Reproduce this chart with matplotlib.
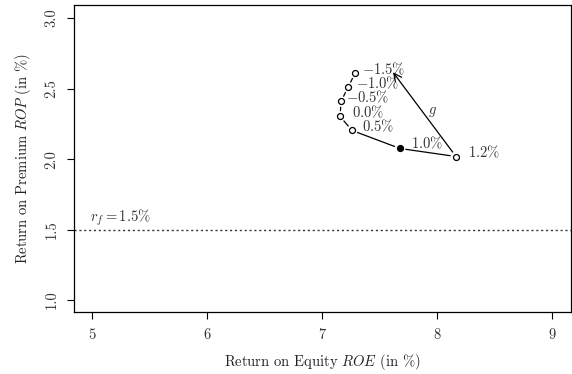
import numpy as np
import matplotlib
matplotlib.use("Agg")
import matplotlib.pyplot as plt

plt.rcParams['font.family'] = 'serif'
plt.rcParams['font.serif'] = ['cmr10']
plt.rcParams['mathtext.fontset'] = 'cm'
plt.rcParams['axes.formatter.use_mathtext'] = True
plt.rcParams['font.size'] = 10.5

TXT = '#333333'

# growth scenarios and resulting returns
growth = ['$-1.5\\%$', '$-1.0\\%$', '$-0.5\\%$', '$0.0\\%$', '$0.5\\%$', '$1.0\\%$', '$1.2\\%$']
roe = [7.287, 7.226, 7.165, 7.157, 7.261, 7.678, 8.165]
rop = [2.609, 2.509, 2.409, 2.302, 2.203, 2.075, 2.018]
filled = [False, False, False, False, False, True, False]
r_free = 1.5

xticks = [5, 6, 7, 8, 9]
yticks = [1.0, 1.5, 2.0, 2.5, 3.0]

fig = plt.figure(figsize=(5.72, 3.74), dpi=100)
ax = fig.add_axes([74/572, 1 - 312/374, 497/572, 307/374])
ax.set_xlim(4.843, 9.165)
ax.set_ylim(0.915, 3.093)

ax.set_xticks(xticks)
ax.set_xticklabels([str(t) for t in xticks])
ax.set_yticks(yticks)
ax.set_yticklabels(['%.1f' % t for t in yticks], rotation=90, va='center')
ax.tick_params(direction='out', length=5, width=0.8, colors='black', labelcolor=TXT, pad=7)
ax.tick_params(axis='y', pad=6)
for s in ax.spines.values():
    s.set_linewidth(0.9)

ax.set_xlabel('Return on Equity $ROE$ (in %)', labelpad=7, color='#222222')
ax.set_ylabel('Return on Premium $ROP$ (in %)', labelpad=9, color='#222222')

# risk free line
ax.axhline(r_free, color='#333333', linestyle=(0, (1.5, 2)), linewidth=1.0)
ax.annotate('$r_f = 1.5\\%$', (4.983, r_free), xytext=(0, 2), textcoords='offset pixels',
            ha='left', va='bottom', color=TXT)

# connect points like R type="b": segments with gaps around the markers
fig.canvas.draw()
pts = ax.transData.transform(np.column_stack([roe, rop]))
gap = 6.0
inv = ax.transData.inverted()
for a, b in zip(pts[:-1], pts[1:]):
    d = b - a
    L = np.hypot(*d)
    if L <= 2 * gap:
        continue
    u = d / L
    p0 = inv.transform(a + u * gap)
    p1 = inv.transform(b - u * gap)
    ax.plot([p0[0], p1[0]], [p0[1], p1[1]], color='black', linewidth=0.9)

for x, y, f in zip(roe, rop, filled):
    ax.plot(x, y, 'o', markersize=4.3, markeredgewidth=0.9, markeredgecolor='black',
            markerfacecolor='black' if f else 'white', zorder=3)

# scenario labels (pixel offsets from each point)
offsets = [(7, 4), (8, 4), (5, 4), (12, 4), (10, 4), (11, 5), (12, 4)]
for x, y, lab, (dx, dy) in zip(roe, rop, growth, offsets):
    ax.annotate(lab, (x, y), xytext=(dx, dy), textcoords='offset pixels',
                ha='left', va='center', color=TXT)

# direction of growth
ax.annotate('', xy=(7.617, 2.616), xytext=(roe[-1], rop[-1]),
            arrowprops=dict(arrowstyle='->', color='black', lw=0.9,
                            shrinkA=4, shrinkB=0, mutation_scale=14))
ax.text(7.957, 2.331, '$g$', ha='center', va='center', color=TXT)

fig.savefig('out.png', dpi=100)
